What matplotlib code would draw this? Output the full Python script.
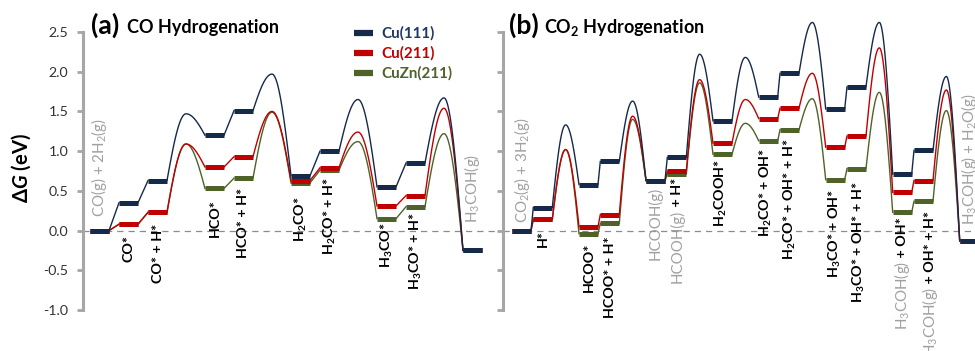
import numpy as np
import matplotlib
matplotlib.use("Agg")
import matplotlib.pyplot as plt
from matplotlib.lines import Line2D

plt.rcParams['font.family'] = ['Lato', 'DejaVu Sans']
plt.rcParams['mathtext.fontset'] = 'custom'
plt.rcParams['mathtext.default'] = 'regular'
plt.rcParams['mathtext.it'] = 'Lato:style=italic:weight=bold'
plt.rcParams['mathtext.rm'] = 'Lato'
plt.rcParams['mathtext.bf'] = 'Lato:weight=bold'
plt.rcParams['axes.unicode_minus'] = False

# ---------------- data ----------------
surfaces = ["Cu(111)", "Cu(211)", "CuZn(211)"]

# (a) CO hydrogenation ; text before '|' is gas phase (grey), after is adsorbed (bold black)
states_a = ["CO(g) + 2H$_2$(g)|", "|CO*", "|CO* + H*", "|HCO*",
            "|HCO* + H*", "|H$_2$CO*", "|H$_2$CO* + H*",
            "|H$_3$CO*", "|H$_3$CO* + H*", "H$_3$COH(g)|"]
cu111_a = [0.00, 0.35, 0.63, 1.20, 1.51, 0.69, 1.00, 0.55, 0.85, -0.25]
cu211_a = [0.00, 0.08, 0.23, 0.80, 0.93, 0.63, 0.79, 0.31, 0.44, -0.25]
cuzn_a = [0.00, 0.08, 0.23, 0.53, 0.66, 0.60, 0.76, 0.15, 0.30, -0.25]
ts_step_a = [2, 4, 6, 8]          # transition state follows these states
ts111_a = [1.47, 1.97, 1.65, 1.67]
ts211_a = [1.09, 1.50, 1.24, 1.54]
tszn_a = [1.09, 1.49, 1.12, 1.22]

# (b) CO2 hydrogenation
states_b = ["CO$_2$(g) + 3H$_2$(g)|", "|H*", "|HCOO*", "|HCOO* + H*",
            "HCOOH(g)|", "HCOOH(g)| + H*", "|H$_2$COOH*", "|H$_2$CO* + OH*",
            "|H$_2$CO* + OH* + H*", "|H$_3$CO* + OH*",
            "|H$_3$CO* + OH* + H*", "H$_3$COH(g)| + OH*",
            "H$_3$COH(g)| + OH* + H*", "H$_3$COH(g) + H$_2$O(g)|"]
cu111_b = [0.00, 0.29, 0.58, 0.87, 0.63, 0.92, 1.38, 1.68, 1.98, 1.53, 1.81, 0.71, 1.01, -0.13]
cu211_b = [0.00, 0.14, 0.05, 0.20, 0.63, 0.75, 1.10, 1.41, 1.54, 1.05, 1.19, 0.48, 0.63, -0.13]
cuzn_b = [0.00, 0.14, -0.04, 0.09, 0.63, 0.71, 0.96, 1.13, 1.27, 0.64, 0.78, 0.23, 0.37, -0.13]
ts_step_b = [1, 3, 5, 6, 8, 10, 12]
ts111_b = [1.33, 1.63, 2.22, 2.18, 2.62, 2.62, 1.94]
ts211_b = [1.02, 1.44, 1.90, 1.65, 1.98, 2.30, 1.77]
tszn_b = [1.02, 1.40, 1.86, 1.35, 1.66, 1.74, 1.51]

yticks = [-1.0, -0.5, 0.0, 0.5, 1.0, 1.5, 2.0, 2.5]

# ---------------- style / layout ----------------
colors = ["#15294A", "#C00000", "#4F6228"]
legend_colors = ["#1F3864", "#C00000", "#4F6228"]
GREY = "#A6A6A6"
W, H = 975, 351
fig = plt.figure(figsize=(W / 100, H / 100), dpi=100)
fig.canvas.draw()
renderer = fig.canvas.get_renderer()

def fit_size(s, weight, target_px, base=10.0):
    t = fig.text(0, 0, s, fontsize=base, fontweight=weight)
    w = t.get_window_extent(renderer).width
    t.remove()
    return base * target_px / w

FS_BOLD = fit_size("H$_3$CO* + OH* + H*", "bold", 121)
FS_GREY = fit_size("CO(g) + 2H$_2$(g)", "normal", 99)
FS_TITLE = fit_size("CO Hydrogenation", "bold", 152)
FS_TAG = fit_size("(a)", "bold", 28)
FS_LEG = fit_size("CuZn(211)", "bold", 71)
FS_YLAB = fit_size("Δ$\\mathit{G}$ (eV)", "bold", 71)
FS_TICK = fit_size("-1.0", "normal", 25)

def frac_x(px):
    return px / W

def frac_y(py):
    return 1 - py / H

ax_top, ax_bot = 32, 310
axa = fig.add_axes([frac_x(83), frac_y(ax_bot), frac_x(500 - 83), (ax_bot - ax_top) / H])
axb = fig.add_axes([frac_x(503), frac_y(ax_bot), frac_x(W - 503), (ax_bot - ax_top) / H])
axa.set_xlim(83, 500)
axb.set_xlim(503, W)

def py2y(py):
    return 2.5 - (py - ax_top) * 3.5 / (ax_bot - ax_top)

for ax in (axa, axb):
    ax.set_ylim(-1.0, 2.5)
    ax.patch.set_alpha(0)
    for s in ("top", "right", "bottom"):
        ax.spines[s].set_visible(False)
    ax.spines["left"].set_color(GREY)
    ax.spines["left"].set_linewidth(2.2)
    ax.set_xticks([])
    ax.set_yticks(yticks)
    ax.tick_params(axis="y", direction="out", length=4.5, width=2.0, color=GREY,
                   labelsize=FS_TICK, labelcolor="#333333", pad=6)
    ax.axhline(0, color="#8C8C8C", lw=0.9, ls=(0, (5, 4)), zorder=0)
axa.set_yticklabels([f"{v:.1f}" for v in yticks])
axb.tick_params(labelleft=False)

def level_starts(n, ts_steps, start, width, gap, ts_gap):
    xs, x = [], start
    for i in range(n):
        xs.append(x)
        x += width + (ts_gap if i in ts_steps else gap)
    return np.array(xs)

def hump(x0, y0, x1, y1, yp):
    xp = 0.5 * (x0 + x1)
    t = np.linspace(0, 1, 40)
    xr = x0 + t * (xp - x0)
    yr = y0 + (yp - y0) * np.sin(np.pi / 2 * t)
    xf = xp + t * (x1 - xp)
    yf = y1 + (yp - y1) * np.cos(np.pi / 2 * t)
    return np.concatenate([xr, xf[1:]]), np.concatenate([yr, yf[1:]])

def draw_panel(ax, xs, width, ts_steps, energies, tss):
    for k in (2, 1, 0):
        E, T, c = energies[k], tss[k], colors[k]
        z = 3 + (2 - k)
        for i in range(len(E) - 1):
            x0, x1 = xs[i] + width, xs[i + 1]
            if i in ts_steps:
                hx, hy = hump(x0, E[i], x1, E[i + 1], T[ts_steps.index(i)])
                ax.plot(hx, hy, color=c, lw=1.0, zorder=z, clip_on=False)
            else:
                ax.plot([x0, x1], [E[i], E[i + 1]], color=c, lw=1.0, zorder=z, clip_on=False)
        for i in range(len(E)):
            ax.plot([xs[i], xs[i] + width], [E[i], E[i]], color=c, lw=3.6,
                    solid_capstyle="butt", zorder=z + 0.5, clip_on=False)

width = 19
xs_a = level_starts(len(states_a), ts_step_a, 90, width, 10, 38)
xs_b = level_starts(len(states_b), ts_step_b, 512, width, 2.3, 26.7)
draw_panel(axa, xs_a, width, ts_step_a, [cu111_a, cu211_a, cuzn_a], [ts111_a, ts211_a, tszn_a])
draw_panel(axb, xs_b, width, ts_step_b, [cu111_b, cu211_b, cuzn_b], [ts111_b, ts211_b, tszn_b])

# ---------------- state labels ----------------
lab_bottom_a = [217, 262, 283, 237, 258, 242, 255, 268, 290, 223]
lab_bottom_b = [223, 247, 292, 318, 260, 283, 227, 237, 260, 278, 303, 330, 356, 225]
lab_dx_b = [0, 0, 0, 0, 0, 0, -2, -2, 0, 0, 2, 0, 6, 0]

def put_label(ax, x, py_bottom, label):
    grey_part, black_part = label.split("|")
    y = py2y(py_bottom)
    parts = []
    if grey_part:
        parts.append((grey_part, "#A0A0A0", "normal", FS_GREY))
    if black_part:
        parts.append((black_part, "black", "bold", FS_BOLD))
    for txt, col, wt, fs in parts:
        t = ax.text(x, y, txt, rotation=90, ha="center", va="bottom", color=col,
                    fontsize=fs, fontweight=wt, zorder=10, clip_on=False)
        bb = t.get_window_extent(renderer)
        y = ax.transData.inverted().transform((0, bb.y1))[1]

for i, lab in enumerate(states_a):
    put_label(axa, xs_a[i] + width / 2, lab_bottom_a[i], lab)
for i, lab in enumerate(states_b):
    put_label(axb, xs_b[i] + width / 2 + lab_dx_b[i], lab_bottom_b[i], lab)

# ---------------- titles / axis label ----------------
fig.text(frac_x(91), frac_y(25), "(a)", fontsize=FS_TAG, fontweight="bold", va="center", ha="left")
fig.text(frac_x(127), frac_y(28), "CO Hydrogenation", fontsize=FS_TITLE, fontweight="bold", va="center", ha="left")
fig.text(frac_x(509), frac_y(25), "(b)", fontsize=FS_TAG, fontweight="bold", va="center", ha="left")
fig.text(frac_x(544), frac_y(28), "CO$_2$ Hydrogenation", fontsize=FS_TITLE, fontweight="bold", va="center", ha="left")
fig.text(frac_x(21), frac_y(168), "Δ$\\mathit{G}$ (eV)", rotation=90, fontsize=FS_YLAB,
         fontweight="bold", va="center", ha="center")

# ---------------- legend (drawn by hand) ----------------
leg_rows = [33, 53, 73]
for lab, c, tc, ry in zip(surfaces, colors, legend_colors, leg_rows):
    fig.add_artist(Line2D([frac_x(354), frac_x(373)], [frac_y(ry), frac_y(ry)], color=c,
                          lw=4.5, solid_capstyle="butt", transform=fig.transFigure))
    fig.text(frac_x(381), frac_y(ry), lab, color=tc, fontsize=FS_LEG, fontweight="bold",
             va="center", ha="left")

fig.savefig("out.png", dpi=100)
